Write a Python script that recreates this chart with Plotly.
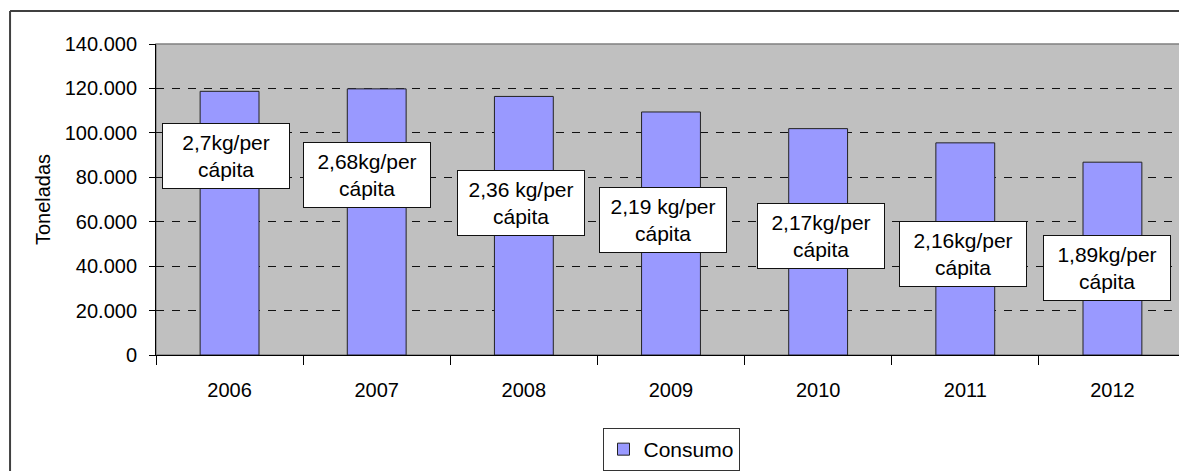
import plotly.graph_objects as go

years = ["2006", "2007", "2008", "2009", "2010", "2011", "2012"]
consumo = [118700, 119800, 116400, 109400, 101900, 95500, 86800]
label_texts = ["2,7kg/per<br>cápita", "2,68kg/per<br>cápita", "2,36 kg/per<br>cápita",
               "2,19 kg/per<br>cápita", "2,17kg/per<br>cápita", "2,16kg/per<br>cápita",
               "1,89kg/per<br>cápita"]
label_y = [89500, 81200, 68300, 60600, 53600, 45500, 39200]
label_xshift = [-4, -10, -3, -8, 3, -2, -5]

FONT = "Liberation Sans, Arial, sans-serif"

fig = go.Figure()
fig.add_trace(go.Bar(
    x=years, y=consumo, name="Consumo",
    marker=dict(color="#9999FF", line=dict(color="#222222", width=1)),
    width=0.40,
))

annotations = []
for i, (txt, ly, xs) in enumerate(zip(label_texts, label_y, label_xshift)):
    annotations.append(dict(
        x=i, y=ly, xref="x", yref="y", text=txt, showarrow=False,
        xshift=xs, bgcolor="white", bordercolor="#111111", borderwidth=1,
        borderpad=3, width=120, height=58,
        font=dict(family=FONT, size=21, color="black"),
    ))

fig.update_layout(
    width=1179, height=463,
    margin=dict(l=148, r=1, t=36, b=115),
    paper_bgcolor="white", plot_bgcolor="#C0C0C0",
    separators=",.",
    font=dict(family=FONT, size=20, color="black"),
    showlegend=True,
    legend=dict(x=0.5, y=-0.30, xanchor="center", yanchor="middle",
                orientation="h", bgcolor="white", bordercolor="#333333",
                borderwidth=1, font=dict(size=21, family=FONT), itemwidth=30),
    annotations=annotations,
    shapes=[
        dict(type="rect", xref="paper", yref="paper", x0=0, x1=1, y0=0, y1=1,
             line=dict(color="#808080", width=1.5), layer="below"),
        dict(type="line", xref="paper", yref="paper", x0=-0.1417, x1=1.05,
             y0=1.1058, y1=1.1058, line=dict(color="#404040", width=2)),
        dict(type="line", xref="paper", yref="paper", x0=-0.1417, x1=-0.1417,
             y0=1.1058, y1=-0.45, line=dict(color="#404040", width=2)),
    ],
)

fig.update_xaxes(
    type="category", range=[-0.5, 6.5], autorange=False, automargin=False,
    tickson="boundaries", ticks="outside", ticklen=9,
    tickcolor="black", showline=True, linecolor="black", linewidth=1,
    showgrid=False, tickfont=dict(size=20, family=FONT), tickangle=0,
    ticklabelstandoff=17,
)
fig.update_yaxes(
    range=[0, 140000], dtick=20000, tickformat=",d", automargin=False,
    ticks="outside", ticklen=6, tickcolor="black",
    showline=True, linecolor="black", linewidth=1,
    showgrid=True, gridcolor="#111111", gridwidth=1, griddash="8px,8px",
    zeroline=False, tickfont=dict(size=20, family=FONT), ticklabelstandoff=8,
    title=dict(text="Toneladas", font=dict(size=20, family=FONT), standoff=8),
)

fig.write_html("out.html")
